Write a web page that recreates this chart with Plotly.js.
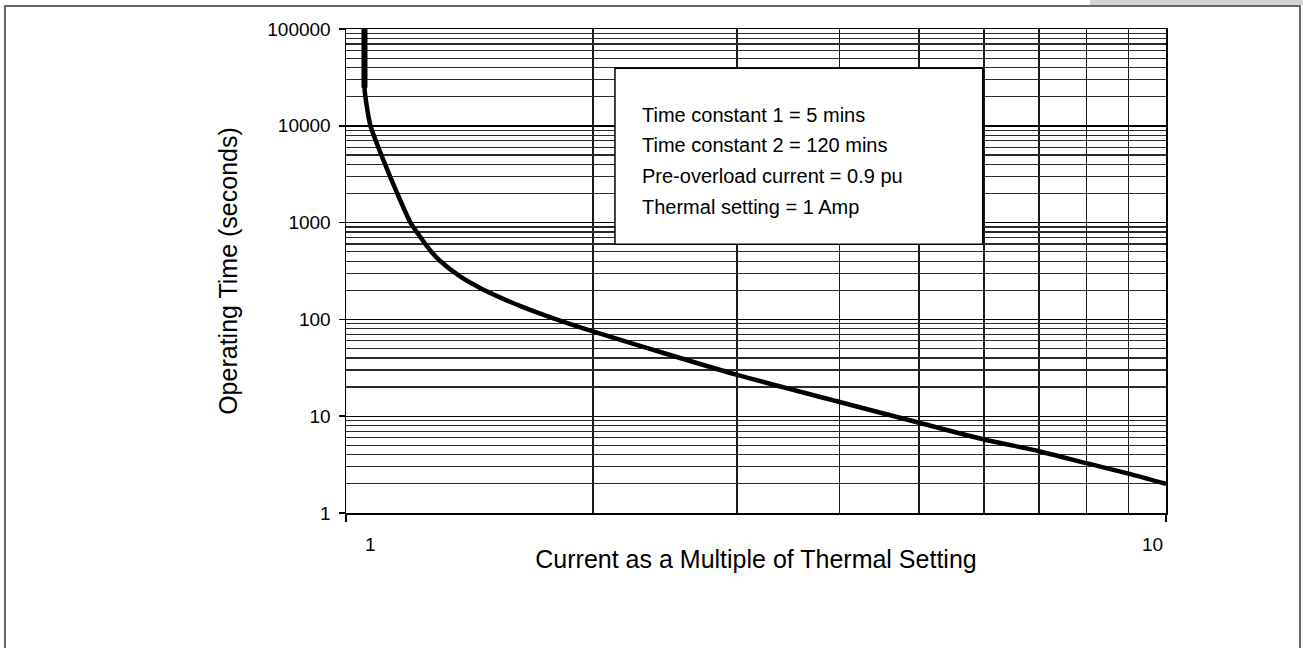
<!DOCTYPE html>
<html>
<head>
<meta charset="utf-8">
<script src="https://cdn.plot.ly/plotly-3.0.1.min.js"></script>
<style>
  html, body { margin: 0; padding: 0; background: #fff; }
  #chart { width: 1303px; height: 648px; }
</style>
</head>
<body>
<div id="chart"></div>
<script>
// ---- data ----
const currentMultiple = [1.0533, 1.0533, 1.0593, 1.0712, 1.1111, 1.1523, 1.1985, 1.2326, 1.2677, 1.3039, 1.379, 1.4588, 1.5431, 1.6323, 1.7762, 2.0, 3.0, 4.0, 5.0, 6.0, 7.0, 8.0, 9.0, 10.0];
const operatingTime   = [100000, 24750, 16520, 10000, 4391, 2090, 1000, 706, 512, 399, 276, 210, 168, 137, 105, 75.2, 26.7, 14.0, 8.55, 5.75, 4.35, 3.27, 2.55, 2.0];

const xTickVals = [1, 10];
const xTickText = ['1', '10'];
const yTickVals = [1, 10, 100, 1000, 10000, 100000];
const yTickText = ['1', '10', '100', '1000', '10000', '100000'];

const infoLines = [
  'Time constant 1 = 5 mins',
  'Time constant 2 = 120 mins',
  'Pre-overload current = 0.9 pu',
  'Thermal setting = 1 Amp'
];

const xTitle = 'Current as a Multiple of Thermal Setting';
const yTitle = 'Operating Time (seconds)';

// minor grid values (2..9 in each decade)
const xMinor = [2, 3, 4, 5, 6, 7, 8, 9];
const yMinor = [];
for (let k = 0; k < 5; k++) {
  for (let m = 2; m <= 9; m++) yMinor.push(m * Math.pow(10, k));
}

const FONT = '"Liberation Sans", Arial, Helvetica, sans-serif';

const curve = {
  x: currentMultiple,
  y: operatingTime,
  type: 'scatter',
  mode: 'lines',
  line: { color: '#000', width: 4.5, shape: 'spline', smoothing: 0.6 },
  hoverinfo: 'x+y',
  showlegend: false
};
// the vertical start of the curve is drawn a little heavier in the original
const curveStart = {
  x: currentMultiple.slice(0, 2),
  y: operatingTime.slice(0, 2),
  type: 'scatter',
  mode: 'lines',
  line: { color: '#000', width: 6 },
  hoverinfo: 'skip',
  showlegend: false
};

// x tick labels (offset like the original Excel chart)
const xLabelShift = [24, -14];
const annotations = xTickVals.map((v, i) => ({
  x: Math.log10(v), xref: 'x',
  y: 0, yref: 'paper',
  xshift: xLabelShift[i], yshift: -31,
  xanchor: 'center', yanchor: 'middle',
  text: xTickText[i], showarrow: false,
  font: { family: FONT, size: 19, color: '#000' }
}));

// info box text lines
const infoY = [0.8233, 0.7603, 0.6973, 0.6322];
infoLines.forEach((t, i) => {
  annotations.push({
    x: 0.3585, xref: 'paper', y: infoY[i], yref: 'paper',
    xanchor: 'left', yanchor: 'middle',
    text: t, showarrow: false,
    font: { family: FONT, size: 20, color: '#000' }
  });
});

const layout = {
  width: 1303,
  height: 648,
  margin: { l: 346, r: 137, t: 29, b: 135, pad: 0 },
  paper_bgcolor: '#fff',
  plot_bgcolor: '#fff',
  font: { family: FONT, color: '#000' },
  xaxis: {
    type: 'log',
    range: [0, 1],
    tickmode: 'array',
    tickvals: xTickVals,
    ticktext: xTickText,
    showticklabels: false,
    ticks: 'outside', ticklen: 7, tickwidth: 1.5, tickcolor: '#000',
    showgrid: true, gridcolor: '#000', gridwidth: 1.5,
    minor: { tickmode: 'array', tickvals: xMinor, showgrid: true, gridcolor: '#1a1a1a', gridwidth: 1.5, ticks: '' },
    showline: true, linecolor: '#000', linewidth: 1.5, mirror: true,
    zeroline: false,
    title: { text: xTitle, font: { family: FONT, size: 25, color: '#000' }, standoff: 30 }
  },
  yaxis: {
    type: 'log',
    range: [0, 5],
    tickmode: 'array',
    tickvals: yTickVals,
    ticktext: yTickText,
    tickfont: { family: FONT, size: 19, color: '#000' },
    ticks: 'outside', ticklen: 6, tickwidth: 1.5, tickcolor: '#000',
    ticklabelstandoff: 4,
    showgrid: true, gridcolor: '#000', gridwidth: 1.4,
    minor: { tickmode: 'array', tickvals: yMinor, showgrid: true, gridcolor: '#2a2a2a', gridwidth: 1.2, ticks: '' },
    showline: true, linecolor: '#000', linewidth: 1.5, mirror: true,
    zeroline: false,
    title: { text: yTitle, font: { family: FONT, size: 25, color: '#000' }, standoff: 22 }
  },
  shapes: [
    // outer chart frame
    { type: 'rect', xref: 'paper', yref: 'paper', x0: -0.4159, x1: 1.1634, y0: -0.3037, y1: 1.0475,
      line: { color: '#666', width: 2 }, fillcolor: 'rgba(0,0,0,0)', layer: 'below' },
    // light grey strip at the top right
    { type: 'rect', xref: 'paper', yref: 'paper', x0: 0.907, x1: 1.17, y0: 1.0496, y1: 1.07,
      line: { width: 0 }, fillcolor: '#d4d4d4', layer: 'below' },
    // info box
    { type: 'rect', xref: 'paper', yref: 'paper', x0: 0.328, x1: 0.7765, y0: 0.5552, y1: 0.9188,
      line: { color: '#000', width: 1.5 }, fillcolor: '#fff', layer: 'above' }
  ],
  annotations: annotations
};

Plotly.newPlot('chart', [curve, curveStart], layout, { staticPlot: true, displayModeBar: false });
</script>
</body>
</html>
